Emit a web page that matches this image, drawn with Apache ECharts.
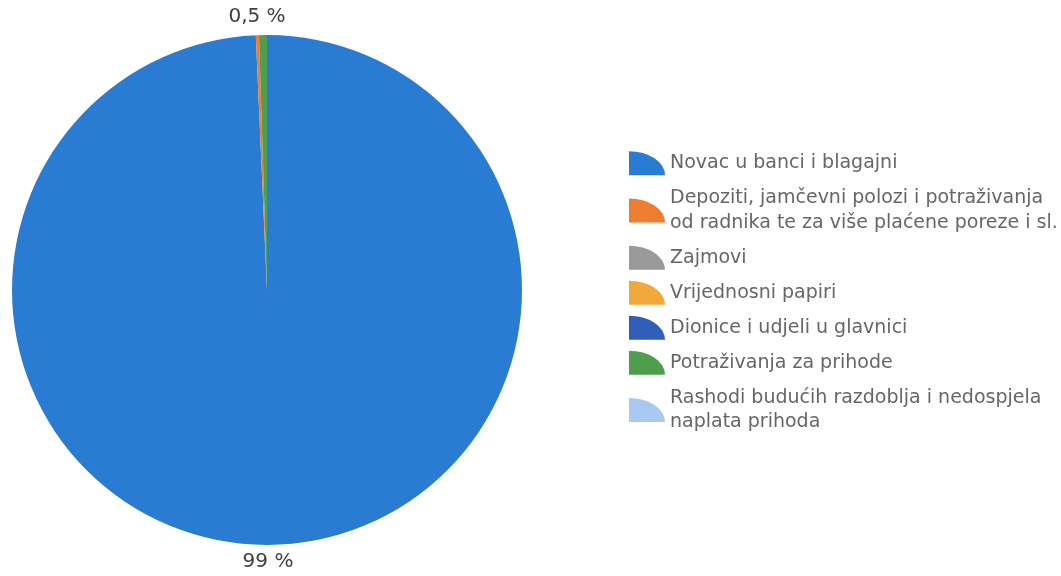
<!DOCTYPE html>
<html>
<head>
<meta charset="utf-8">
<script src="https://cdn.jsdelivr.net/npm/echarts@6/dist/echarts.min.js"></script>
<style>html,body{margin:0;padding:0;background:#fff;}#c{width:1061px;height:576px;}</style>
</head>
<body>
<div id="c"></div>
<script>
var categories = [
  "Novac u banci i blagajni",
  "Depoziti, jamčevni polozi i potraživanja\nod radnika te za više plaćene poreze i sl.",
  "Zajmovi",
  "Vrijednosni papiri",
  "Dionice i udjeli u glavnici",
  "Potraživanja za prihode",
  "Rashodi budućih razdoblja i nedospjela\nnaplata prihoda"
];
var values = [99.3, 0.2, 0, 0, 0, 0.5, 0];
var colors = ["#2a7cd2", "#ed7d31", "#9a9a9a", "#f2a93b", "#2f5fb8", "#4e9e4e", "#a9c9f0"];

var chart = echarts.init(document.getElementById('c'));
var data = categories.map(function (n, i) { return { name: n, value: values[i] }; });

chart.setOption({
  animation: false,
  color: colors,
  legend: {
    orient: 'vertical',
    left: 624,
    top: 146,
    itemWidth: 36,
    itemHeight: 24,
    itemGap: 10.5,
    icon: 'path://M0,24 L0,0 A36,24 0 0 1 36,24 Z',
    textStyle: { fontFamily: 'DejaVu Sans', fontSize: 19, color: '#666666', lineHeight: 24.5, padding: [0, 0, 0, 0] },
    selectedMode: false
  },
  series: [{
    type: 'pie',
    center: [267, 290],
    radius: 255,
    startAngle: 90,
    clockwise: true,
    data: data,
    minShowLabelAngle: 1,
    avoidLabelOverlap: false,
    itemStyle: { borderWidth: 0 },
    label: {
      show: true,
      position: 'outside',
      fontFamily: 'DejaVu Sans',
      fontSize: 20,
      color: '#404040',
      formatter: function (p) {
        return p.percent >= 1 ? Math.round(p.percent) + ' %' : p.percent.toFixed(1).replace('.', ',') + ' %';
      }
    },
    labelLine: { show: false, length: 16, length2: 0 },
    labelLayout: function (p) {
      var r = p.rect, lr = p.labelRect;
      var above = (lr.y + lr.height / 2) < (r.y + r.height / 2);
      return {
        x: r.x + r.width / 2 + (above ? -6 : 1),
        y: above ? r.y - 18 : r.y + r.height + 17,
        align: 'center',
        verticalAlign: 'middle'
      };
    },
    emphasis: { disabled: true }
  }]
});
</script>
</body>
</html>
